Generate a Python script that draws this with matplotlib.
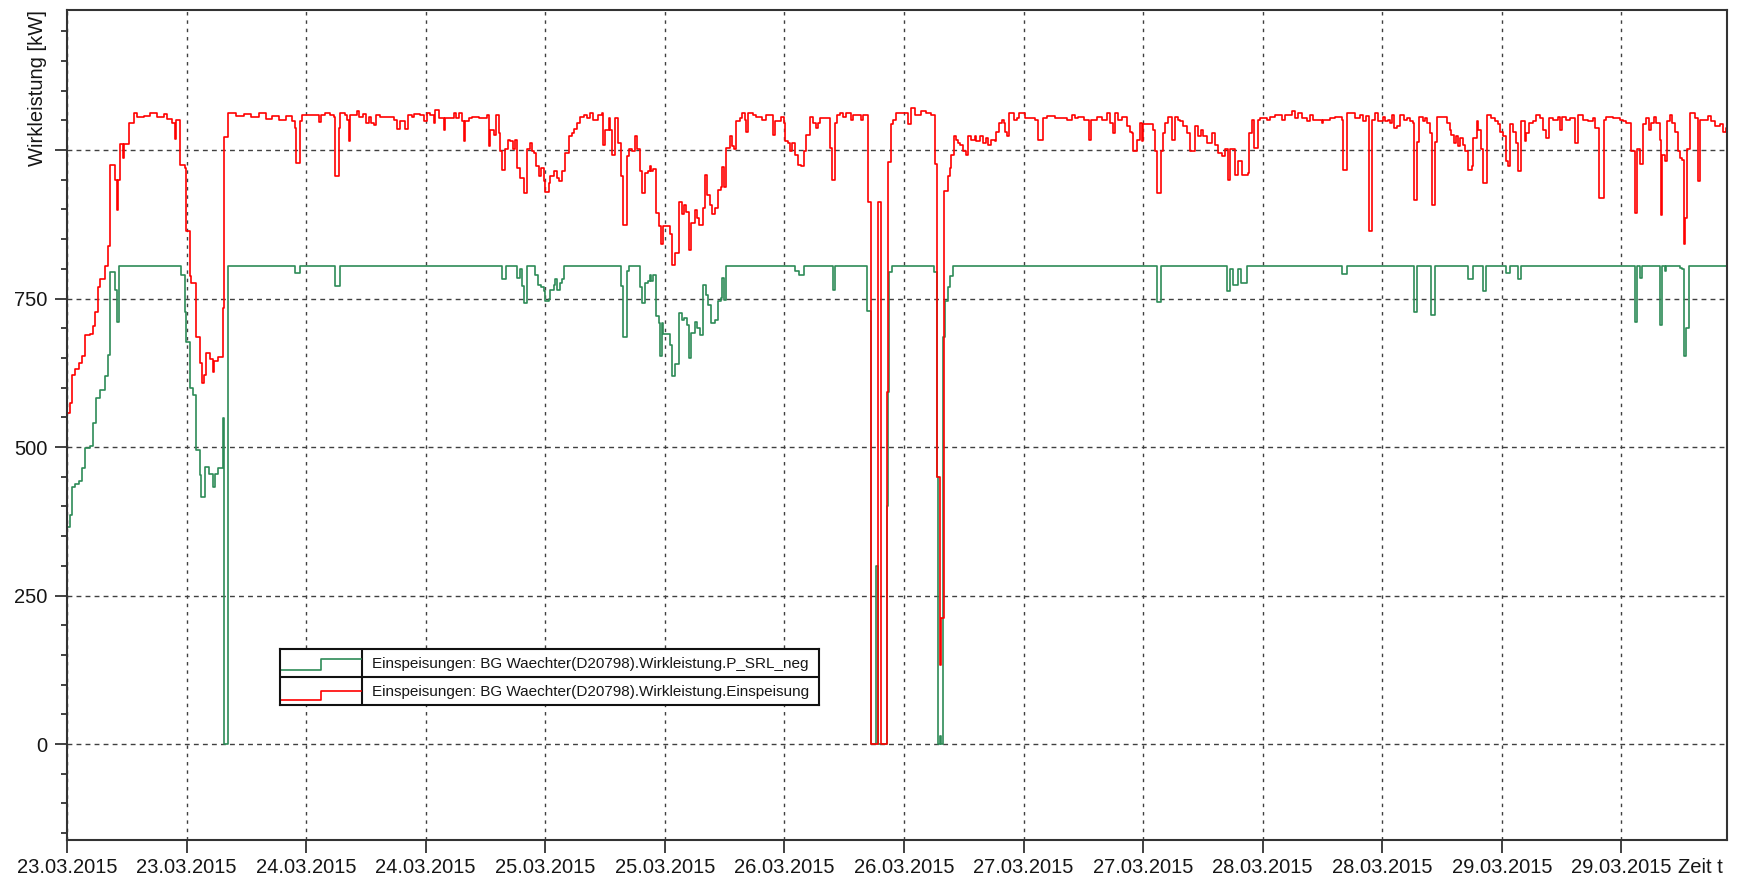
import matplotlib
matplotlib.use("Agg")
import matplotlib.pyplot as plt
from matplotlib.ticker import MultipleLocator

plt.rcParams["font.family"] = ["Liberation Sans", "DejaVu Sans"]

# %% Data (hours since 23.03.2015 00:00, kW), step-post
red_hours = [
    0.0, 0.27, 0.5, 0.84, 1.24, 1.54, 1.77, 2.27, 2.61, 2.78, 3.11, 3.28, 3.78, 4.11, 4.28, 4.78,
    5.02, 5.12, 5.28, 5.62, 5.75, 6.19, 6.69, 7.02, 7.69, 8.36, 9.03, 9.7, 10.03, 10.54, 10.87,
    10.97, 11.37, 11.81, 11.91, 11.97, 12.31, 12.47, 12.98, 13.31, 13.55, 13.78, 13.98, 14.31,
    14.62, 14.78, 15.12, 15.62, 15.79, 16.12, 17.0, 17.8, 18.5, 19.3, 20.0, 20.6, 21.3, 22.0,
    22.6, 22.93, 23.03, 23.37, 23.6, 25.27, 25.5, 25.87, 26.37, 26.77, 26.94, 27.34, 27.44,
    27.88, 28.11, 28.28, 28.45, 29.11, 29.28, 29.68, 30.05, 30.28, 30.55, 30.78, 31.05, 31.45,
    32.79, 33.12, 33.46, 33.96, 34.19, 34.63, 34.86, 35.46, 35.8, 36.13, 36.47, 36.8, 36.97,
    37.3, 37.8, 37.97, 38.81, 39.04, 39.31, 39.64, 39.81, 39.98, 40.31, 40.64, 41.31, 42.15,
    42.32, 42.48, 42.82, 43.08, 43.32, 43.49, 43.65, 43.99, 44.22, 44.49, 44.72, 44.92, 45.16,
    45.49, 45.82, 46.16, 46.43, 46.66, 46.83, 47.09, 47.33, 47.56, 47.83, 48.0, 48.33, 48.5,
    48.83, 49.17, 49.33, 49.67, 50.0, 50.34, 50.67, 50.9, 51.17, 51.44, 51.84, 52.17, 52.51,
    52.84, 53.34, 53.68, 53.78, 54.01, 54.35, 54.51, 54.68, 55.02, 55.32, 55.65, 55.82, 56.16,
    56.42, 56.66, 56.99, 57.16, 57.49, 57.66, 57.99, 58.33, 58.5, 58.66, 58.83, 59.1, 59.43,
    59.6, 59.83, 60.5, 60.67, 61.0, 61.44, 61.77, 61.91, 62.17, 62.44, 62.67, 63.01, 63.18,
    63.44, 63.78, 64.01, 64.24, 64.51, 64.78, 65.01, 65.35, 65.68, 65.78, 65.95, 66.18, 66.52,
    66.78, 66.95, 67.19, 67.52, 67.79, 68.02, 68.19, 68.36, 68.86, 69.19, 69.79, 70.19, 70.86,
    71.03, 71.7, 71.97, 72.03, 72.37, 72.53, 72.8, 73.03, 73.37, 73.7, 73.94, 74.2, 74.54,
    74.87, 75.14, 75.37, 75.54, 76.54, 76.81, 77.05, 77.28, 77.55, 77.88, 78.22, 78.72, 78.88,
    79.72, 79.89, 80.39, 80.72, 81.39, 81.73, 82.25, 82.42, 82.69, 82.86, 83.2, 84.39, 84.73,
    85.06, 85.74, 86.25, 86.76, 87.1, 87.27, 87.61, 87.7, 88.0, 88.41, 88.58, 88.74, 88.98,
    89.24, 89.41, 89.58, 89.91, 90.25, 90.41, 90.75, 91.08, 91.25, 91.58, 91.92, 92.19, 92.42,
    92.75, 93.09, 93.25, 93.52, 93.83, 94.0, 94.16, 94.33, 94.5, 95.0, 95.33, 95.5, 96.17,
    97.17, 97.44, 97.91, 98.34, 99.18, 100.34, 100.85, 101.18, 101.51, 102.02, 102.52, 102.72,
    103.35, 103.85, 104.36, 104.69, 105.02, 105.19, 105.53, 105.86, 106.36, 106.7, 106.86,
    107.03, 107.36, 107.7, 107.86, 108.03, 109.03, 109.2, 109.37, 109.8, 110.04, 110.2, 110.54,
    110.87, 111.21, 111.47, 111.71, 112.04, 112.38, 112.71, 113.21, 113.55, 113.81, 114.05,
    114.38, 114.88, 115.22, 115.49, 115.89, 116.22, 116.49, 116.55, 116.76, 117.22, 117.56,
    117.89, 118.56, 118.63, 118.89, 119.16, 119.5, 119.73, 120.4, 120.73, 121.23, 121.9,
    122.24, 122.9, 123.24, 123.57, 123.91, 124.41, 124.74, 125.08, 125.91, 126.08, 126.75,
    127.25, 127.92, 128.09, 128.42, 129.26, 129.76, 130.09, 130.36, 130.66, 130.93, 131.26,
    131.6, 132.03, 132.27, 132.6, 132.77, 132.94, 133.17, 133.5, 133.77, 134.17, 134.44,
    134.77, 135.04, 135.21, 135.44, 135.71, 136.04, 136.28, 136.51, 136.78, 136.95, 137.28,
    137.45, 138.45, 138.78, 138.95, 139.19, 139.39, 139.62, 139.85, 140.12, 140.29, 140.62,
    140.96, 141.12, 141.46, 141.63, 141.96, 142.13, 142.53, 142.96, 143.3, 143.63, 143.8,
    144.13, 144.4, 144.63, 144.87, 145.13, 145.4, 145.64, 145.97, 146.31, 146.47, 146.74,
    147.14, 147.47, 147.81, 148.14, 148.48, 148.74, 149.15, 149.65, 149.81, 150.08, 150.48,
    150.82, 151.32, 151.65, 152.15, 152.66, 153.16, 153.32, 153.76, 154.23, 154.49, 155.16,
    155.83, 156.16, 156.5, 157.0, 157.33, 157.57, 157.9, 158.17, 158.5, 158.77, 159.0, 159.24,
    159.51, 159.84, 159.94, 160.11, 160.34, 160.61, 160.84, 161.11, 161.34, 161.68, 161.85,
    162.11, 162.25, 162.28, 162.38, 162.58, 162.85, 163.35, 163.68, 163.85, 164.69, 165.02,
    165.36, 165.86, 166.19, 166.53, 166.8,
]
red_kw = [
    557, 574, 621, 632, 641, 653, 689, 691, 704, 728, 769, 782, 804, 838, 975, 949,
    899, 949, 1010, 986, 1010, 1045, 1062, 1055, 1058, 1062, 1056, 1060, 1052, 1045, 1018,
    1050, 975, 969, 916, 863, 788, 776, 685, 641, 607, 621, 658, 648,
    627, 644, 652, 734, 1022, 1062, 1058, 1060, 1055, 1062, 1052, 1058, 1050, 1058,
    1048, 1037, 978, 1048, 1059, 1047, 1059, 1062, 1059, 1056, 956, 1037, 1062,
    1059, 1051, 1016, 1059, 1065, 1056, 1061, 1045, 1056, 1045, 1042, 1059, 1056,
    1051, 1036, 1048, 1036, 1059, 1056, 1061, 1059, 1048, 1062, 1059, 1045, 1068,
    1054, 1034, 1054, 1062, 1054, 1062, 1048, 1015, 1048, 1054, 1056, 1054, 1059,
    1006, 1034, 1026, 1059, 1029, 998, 967, 1001, 1017, 1015, 1001, 1017, 970,
    953, 928, 1001, 1012, 998, 995, 973, 956, 970, 947, 930, 944, 956,
    964, 953, 947, 964, 995, 1023, 1029, 1035, 1045, 1056, 1059, 1054, 1062,
    1051, 1059, 1062, 1009, 1034, 1054, 1034, 992, 1054, 1012, 956, 873, 990,
    1001, 998, 1023, 1001, 965, 928, 962, 965, 973, 965, 968, 894, 872,
    841, 872, 858, 807, 826, 913, 893, 907, 896, 832, 877, 899, 885,
    874, 902, 958, 924, 907, 892, 902, 933, 938, 972, 938, 1003, 1023,
    1006, 1001, 1048, 1054, 1062, 1051, 1031, 1062, 1059, 1056, 1051, 1059, 1026,
    1048, 1056, 1045, 1015, 1012, 998, 1012, 992, 975, 973, 998, 1026, 1056,
    1045, 1037, 1045, 1054, 1003, 950, 1045, 1059, 1062, 1056, 1062, 1051, 1059,
    1051, 1059, 913, 0, 912, 0, 592, 980, 1044, 1051, 1062, 1044, 1070,
    1059, 1066, 1062, 1059, 976, 449, 133, 212, 931, 956, 970, 992, 1023,
    1017, 1012, 1009, 998, 992, 1023, 1017, 1023, 1015, 1023, 1012, 1020, 1009,
    1017, 1015, 1031, 1045, 1051, 1045, 1031, 1023, 1062, 1051, 1054, 1062, 1054,
    1051, 1017, 1054, 1058, 1054, 1051, 1059, 1054, 1056, 1051, 1017, 1051,
    1056, 1051, 1062, 1045, 1028, 1062, 1051, 1056, 1040, 1031, 1028,
    998, 1017, 1045, 1015, 1043, 1034, 998, 928, 998, 1029, 1045, 1056,
    1017, 1056, 1051, 1048, 1040, 1029, 998, 1040, 1023, 1034, 1023,
    1012, 1029, 1009, 995, 990, 1001, 984, 950, 1001, 958, 981,
    958, 961, 1028, 1051, 1003, 1051, 1054, 1051, 1056, 1059, 1051,
    1059, 1065, 1054, 1062, 1054, 1048, 1059, 1051, 1045, 1051, 1054,
    1056, 1051, 967, 1062, 1054, 1059, 1048, 1057, 863, 1051, 1062,
    1049, 1056, 1048, 1051, 1045, 1059, 1037, 1040, 1059, 1051, 1054,
    1048, 1045, 916, 1014, 1056, 1048, 1054, 1045, 1028, 908, 1014,
    1056, 1045, 1034, 1026, 1012, 1023, 1006, 1020, 1009, 998, 967,
    973, 1020, 1048, 1034, 1001, 944, 1059, 1054, 1048, 1043, 1031,
    1023, 981, 973, 1043, 1031, 1012, 964, 1048, 1015, 1029, 1045,
    1048, 1059, 1054, 1034, 1020, 1054, 1051, 1056, 1034, 1056, 1051,
    1054, 1012, 1059, 1051, 1048, 1054, 1037, 919, 1051, 1056, 1054,
    1051, 1048, 1045, 998, 894, 1001, 977, 1043, 1054, 1034, 1045, 1056,
    1045, 1017, 891, 992, 981, 1048, 1059, 1045, 1031, 998, 987,
    984, 886, 841, 886, 1001, 1062, 1054, 947, 1051, 1058, 1048,
    1040, 1043, 1031, 1037, 1037,
]

green_hours = [
    0.0, 0.27, 0.5, 0.84, 1.24, 1.5, 1.77, 2.27, 2.61, 2.94, 3.28, 3.78, 4.11, 4.28, 4.78,
    5.02, 5.18, 11.47, 11.81, 11.97, 12.31, 12.64, 12.98, 13.31, 13.48, 13.88, 14.21, 14.62,
    14.88, 15.12, 15.62, 15.72, 16.12, 22.93, 23.37, 26.94, 27.38, 43.65, 44.05, 45.16, 45.42,
    45.66, 45.82, 46.16, 46.99, 47.23, 47.56, 47.83, 48.0, 48.33, 48.5, 48.83, 49.0, 49.17,
    49.43, 49.67, 49.9, 55.65, 55.82, 56.16, 56.42, 57.49, 57.66, 57.99, 58.33, 58.5, 58.66,
    58.83, 59.1, 59.43, 59.5, 59.67, 59.83, 60.5, 60.67, 61.0, 61.44, 61.77, 61.91, 62.24,
    62.44, 62.67, 63.01, 63.24, 63.51, 63.84, 64.11, 64.34, 64.68, 65.01, 65.35, 65.68, 65.78,
    65.92, 66.18, 73.03, 73.44, 73.94, 76.88, 77.05, 80.29, 80.72, 81.15, 81.39, 82.25, 82.35,
    82.52, 82.76, 87.04, 87.27, 87.38, 87.6, 87.75, 87.9, 88.15, 88.4, 88.6, 88.9, 109.37,
    109.8, 116.39, 116.72, 117.06, 117.52, 117.86, 118.46, 127.99, 128.42, 135.21, 135.44,
    136.88, 137.28, 140.62, 141.06, 142.13, 142.46, 144.4, 144.8, 145.64, 145.97, 157.33,
    157.57, 157.9, 158.1, 159.91, 160.04, 160.34, 160.51, 161.85, 162.11, 162.28, 162.45,
    162.78, 166.8,
]
green_kw = [
    366, 386, 433, 438, 443, 464, 498, 501, 541, 582, 596, 619, 655, 794, 764,
    711, 804, 790, 728, 677, 599, 588, 495, 453, 416, 467, 455, 433,
    455, 464, 548, 0, 804, 793, 804, 771, 804, 782, 804, 784, 800,
    771, 742, 804, 790, 773, 770, 762, 746, 749, 765, 773, 782, 765,
    776, 782, 804, 771, 686, 796, 804, 769, 742, 776, 779, 790, 779,
    790, 720, 709, 653, 709, 690, 672, 619, 639, 725, 714, 717, 706,
    650, 692, 711, 700, 689, 773, 756, 739, 708, 714, 745, 751, 784,
    748, 804, 796, 790, 804, 765, 804, 729, 0, 299, 0, 400, 592,
    795, 804, 795, 449, 0, 13, 0, 686, 746, 769, 788, 804, 744,
    804, 762, 799, 773, 799, 776, 804, 791, 804, 728, 804,
    723, 804, 782, 804, 762, 804, 793, 804, 782, 804, 710,
    804, 784, 804, 706, 804, 796, 804, 801, 799, 653, 701,
    804, 804,
]

tick_hours = list(range(0, 157, 12))
tick_labels = [
    "23.03.2015", "23.03.2015", "24.03.2015", "24.03.2015", "25.03.2015", "25.03.2015",
    "26.03.2015", "26.03.2015", "27.03.2015", "27.03.2015", "28.03.2015", "28.03.2015",
    "29.03.2015", "29.03.2015",
]
y_ticks = [0, 250, 500, 750, 1000]
y_tick_labels = ["0", "250", "500", "750", ""]

series_names = [
    "Einspeisungen: BG Waechter(D20798).Wirkleistung.P_SRL_neg",
    "Einspeisungen: BG Waechter(D20798).Wirkleistung.Einspeisung",
]
green_color = "#2e8b57"
red_color = "#ff0000"
text_color = "#161616"
fs = 14.5

# %% Main plot
W, H = 1740, 884
fig = plt.figure(figsize=(W / 100, H / 100), dpi=100)
ax = fig.add_axes([67 / W, 1 - 840 / H, 1660 / W, 830 / H])

ax.plot(green_hours, green_kw, drawstyle="steps-post", color=green_color, lw=1.2)
ax.plot(red_hours, red_kw, drawstyle="steps-post", color=red_color, lw=1.2)

ax.set_xlim(0, 166.6)
ax.set_ylim(-161.6, 1235.7)
ax.set_xticks(tick_hours)
ax.set_xticklabels(tick_labels)
ax.set_yticks(y_ticks)
ax.set_yticklabels(y_tick_labels)
ax.yaxis.set_minor_locator(MultipleLocator(50))

ax.yaxis.grid(True, linestyle=(0, (3.5, 3)), color="#404040", lw=1.0)
ax.xaxis.grid(True, linestyle=(0, (2.5, 3.5)), color="#404040", lw=1.0)

ax.tick_params(axis="both", which="major", direction="out", length=9, width=1.3,
               color="#333333", labelsize=fs, labelcolor=text_color)
ax.tick_params(axis="x", pad=4)
ax.tick_params(axis="y", pad=5)
ax.tick_params(axis="y", which="minor", direction="out", length=4.5, width=1.3,
               color="#333333")
for sp in ax.spines.values():
    sp.set_color("#333333")
    sp.set_linewidth(1.5)

fig.text(38 / W, 1 - 10 / H, "Wirkleistung [kW]", rotation=90, ha="center", va="top",
         fontsize=fs, color=text_color)
ax.annotate("Zeit t", xy=((1678 - 67) / 1660, 0), xycoords="axes fraction",
            xytext=(0, -13), textcoords="offset points", ha="left", va="top",
            fontsize=fs, color=text_color)

# %% Table-like legend
lg = fig.add_axes([280 / W, 1 - 705 / H, 539 / W, 56 / H])
lg.set_xlim(0, 539)
lg.set_ylim(0, 56)
lg.set_xticks([])
lg.set_yticks([])
for sp in lg.spines.values():
    sp.set_color("#111111")
    sp.set_linewidth(1.5)
lg.axvline(82, color="#111111", lw=1.5)
lg.axhline(28, color="#111111", lw=1.5)
lg.plot([1, 41, 41, 81], [35, 35, 46, 46], color=green_color, lw=1.2)
lg.plot([1, 41, 41, 81], [5, 5, 14, 14], color=red_color, lw=1.2)
lg.text(92, 41, series_names[0], va="center", ha="left", fontsize=11, color=text_color)
lg.text(92, 13, series_names[1], va="center", ha="left", fontsize=11, color=text_color)

fig.savefig("out.png", dpi=100)
